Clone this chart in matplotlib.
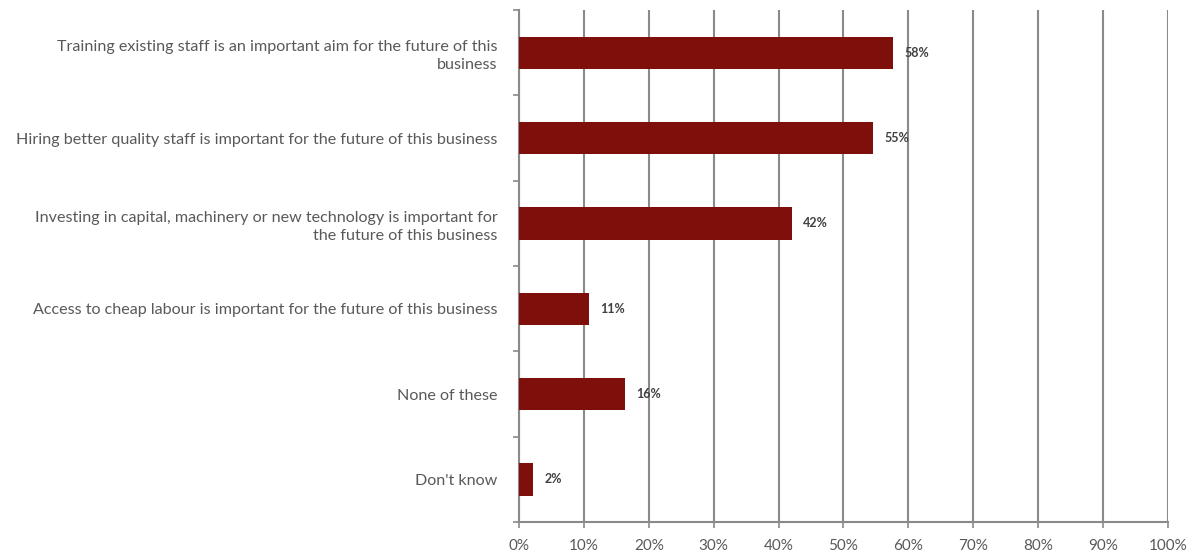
import numpy as np
import matplotlib.pyplot as plt
from matplotlib.ticker import FixedLocator, PercentFormatter

# ============================================================================
# DATA
# ============================================================================

categories = [
    "Training existing staff is an important aim for the future of this\nbusiness",
    "Hiring better quality staff is important for the future of this business",
    "Investing in capital, machinery or new technology is important for\nthe future of this business",
    "Access to cheap labour is important for the future of this business",
    "None of these",
    "Don't know",
]
values = [57.7, 54.6, 42.0, 10.8, 16.3, 2.2]
value_labels = ["58%", "55%", "42%", "11%", "16%", "2%"]

BAR_COLOR = '#7F0F0B'
GRID_COLOR = '#8A8A8A'
TEXT_COLOR = '#595959'

plt.rcParams['font.family'] = ['Lato', 'DejaVu Sans']

# ============================================================================
# PLOT
# ============================================================================

fig = plt.figure(figsize=(12, 5.59), dpi=100)
ax = fig.add_axes([0.4325, 0.066, 0.5408, 0.916])

y = np.arange(len(categories))[::-1]
ax.barh(y, values, height=0.38, color=BAR_COLOR, zorder=3)

for yi, v, lab in zip(y, values, value_labels):
    ax.annotate(lab, (v, yi), xytext=(8, 0), textcoords='offset points',
                va='center', ha='left', fontsize=9, color='#404040',
                fontweight='bold', zorder=4)

ax.set_xlim(0, 100)
ax.set_ylim(-0.5, len(categories) - 0.5)
ax.set_xticks(np.arange(0, 101, 10))
ax.xaxis.set_major_formatter(PercentFormatter(decimals=0))
ax.set_yticks(y)
ax.set_yticklabels(categories, fontsize=11.6, color=TEXT_COLOR, ha='right',
                   linespacing=1.35)
ax.yaxis.set_minor_locator(FixedLocator(np.arange(-0.5, len(categories), 1)))

ax.tick_params(axis='y', which='major', length=0, pad=15.5)
ax.tick_params(axis='y', which='minor', length=4, color=GRID_COLOR, width=1.2)
ax.tick_params(axis='x', length=4, color=GRID_COLOR, width=1.2,
               labelsize=11, labelcolor=TEXT_COLOR, pad=8)

ax.grid(axis='x', color=GRID_COLOR, linewidth=1.5, zorder=0)
for side in ['top', 'right']:
    ax.spines[side].set_visible(False)
for side in ['left', 'bottom']:
    ax.spines[side].set_color(GRID_COLOR)
    ax.spines[side].set_linewidth(1.5)

plt.savefig('out.png', dpi=100)
